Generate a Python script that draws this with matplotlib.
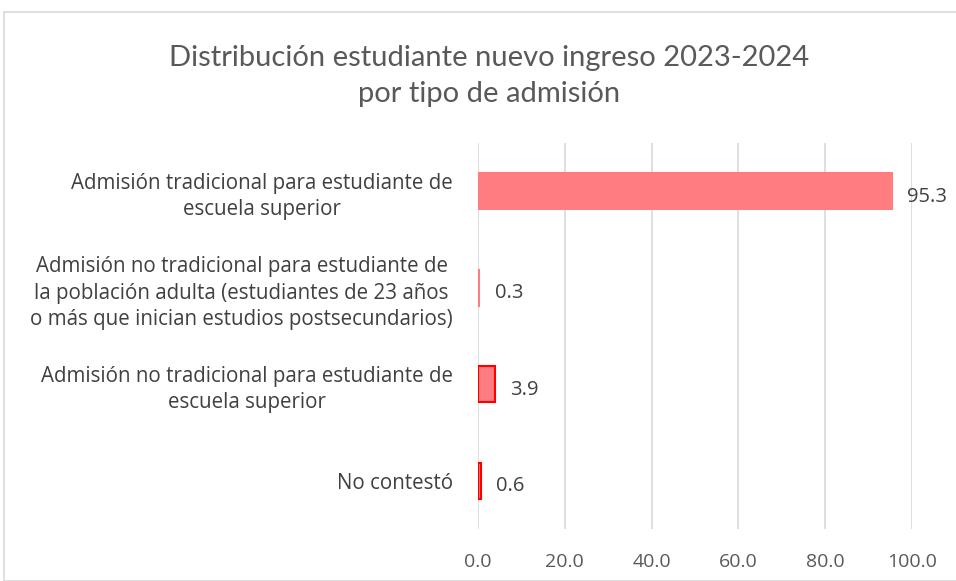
import matplotlib
matplotlib.use("Agg")
import matplotlib.pyplot as plt
from matplotlib.patches import Rectangle

categories = [
    "Admisión tradicional para estudiante de\nescuela superior",
    "Admisión no tradicional para estudiante de\nla población adulta (estudiantes de 23 años\no más que inician estudios postsecundarios)",
    "Admisión no tradicional para estudiante de\nescuela superior",
    "No contestó",
]
values = [95.3, 0.3, 3.9, 0.6]
edge_colors = ["#FF7C80", "#FF7C80", "#FF0000", "#FF0000"]
xticks = [0, 20, 40, 60, 80, 100]
title = "Distribución estudiante nuevo ingreso 2023-2024\npor tipo de admisión"

plt.rcParams['font.family'] = ['Open Sans', 'DejaVu Sans']

fig = plt.figure(figsize=(9.56, 5.81), dpi=100)
fig.patches.append(Rectangle((4/956, 0), 1, 1 - 12/581, transform=fig.transFigure,
                             fill=False, edgecolor="#D9D9D9", linewidth=1.2))
ax = fig.add_axes([478/956, 1 - 529/581, (912 - 478)/956, (529 - 143)/581])

ypos = list(range(len(categories)))
ax.barh(ypos, values, height=0.37, color="#FF7C80", edgecolor=edge_colors, linewidth=1.5, zorder=3)
ax.set_ylim(len(categories) - 0.5, -0.5)
ax.set_xlim(0, 100)
ax.set_yticks(ypos)
ax.set_yticklabels(categories, multialignment="center", fontsize=14.8, color="#404040",
                   linespacing=1.35)
ax.set_xticks(xticks)
ax.set_xticklabels([f"{v:.1f}" for v in xticks], fontsize=14, color="#595959")
ax.tick_params(axis="y", length=0, pad=18)
ax.tick_params(axis="x", length=0, pad=17)
ax.grid(axis="x", color="#D9D9D9", linewidth=1.2, zorder=0)
for s in ax.spines.values():
    s.set_visible(False)

for y, v in zip(ypos, values):
    ax.annotate(f"{v:.1f}", (v, y), xytext=(11, -4), textcoords="offset points",
                va="center", ha="left", fontsize=14.5, color="#404040")

fig.text(489/956, 1 - 76/581, title, ha="center", va="center", fontsize=21,
         family=['Lato', 'DejaVu Sans'], color="#595959", linespacing=1.5)

fig.savefig("out.png", dpi=100)
